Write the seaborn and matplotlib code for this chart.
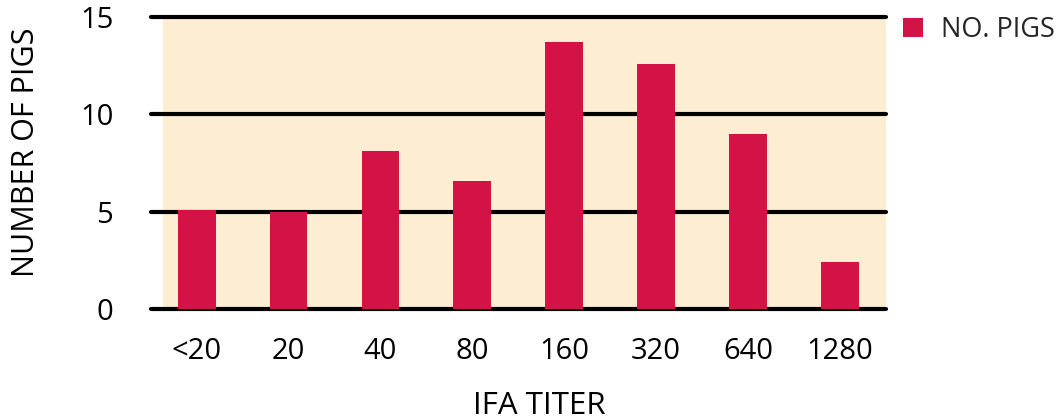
import matplotlib
matplotlib.use("Agg")
import matplotlib.pyplot as plt
from matplotlib.patches import Patch
import seaborn as sns
import pandas as pd

categories = ["<20", "20", "40", "80", "160", "320", "640", "1280"]
pigs = [5.1, 5.0, 8.1, 6.6, 13.7, 12.6, 9.0, 2.4]
y_ticks = [0, 5, 10, 15]

BAR = "#D31245"
PANEL = "#FDEDD2"

sns.set_theme(style="white")
plt.rcParams["font.family"] = ["Open Sans", "DejaVu Sans"]

df = pd.DataFrame({"titer": categories, "pigs": pigs})

fig = plt.figure(figsize=(10.62, 4.19), dpi=100)
ax = fig.add_axes([0.142, 0.2625, 0.692, 0.697])
ax.set_facecolor("white")

sns.barplot(data=df, x="titer", y="pigs", color=BAR, width=0.41,
            saturation=1, linewidth=0, edgecolor="none", ax=ax, zorder=3)

ax.set_xlim(-0.5, 7.5)
ax.set_ylim(0, 15)
ax.axvspan(-0.37, 7.5, color=PANEL, zorder=0, lw=0)
for v in y_ticks:
    ax.axhline(v, color="black", lw=3, zorder=2, clip_on=False)

for s in ax.spines.values():
    s.set_visible(False)
ax.grid(False)
ax.set_yticks(y_ticks)
ax.tick_params(axis="both", length=0, labelsize=21, colors="black")
ax.tick_params(axis="y", pad=27)
ax.tick_params(axis="x", pad=20)

ax.set_xlabel("IFA TITER", fontsize=22.5, color="black", labelpad=0)
ax.xaxis.set_label_coords(0.529, -0.28)
ax.set_ylabel("NUMBER OF PIGS", fontsize=22, color="black")
ax.yaxis.set_label_coords(-0.149, 0.538)

handle = Patch(facecolor=BAR, edgecolor="none", label="NO. PIGS")
fig.legend(handles=[handle], loc="upper left", bbox_to_anchor=(0.850, 0.962),
           frameon=False, fontsize=19.5, handlelength=0.75, handleheight=0.7,
           handletextpad=0.65, borderpad=0, borderaxespad=0)

fig.savefig("out.png", dpi=100)
